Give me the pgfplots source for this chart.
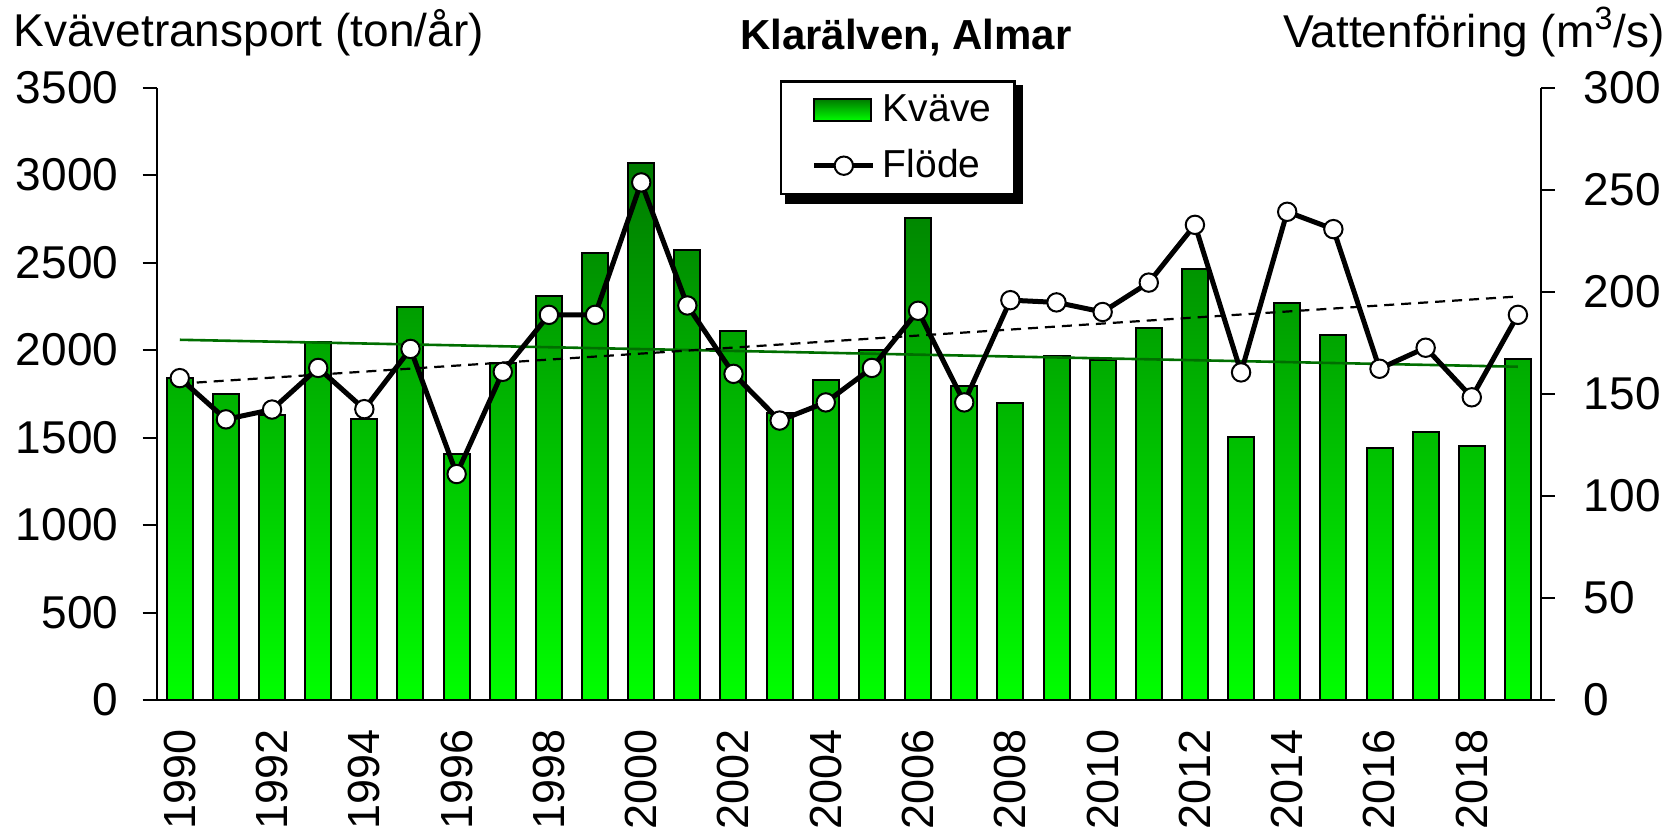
\documentclass[border=0pt]{standalone}
\usepackage{fontspec}
\setmainfont{Liberation Sans}
\usepackage{pgfplots}
\usepackage{pgfplotstable}
\pgfplotsset{compat=1.18}
\definecolor{bartop}{RGB}{0,122,0}
\definecolor{barbot}{RGB}{0,255,0}
\definecolor{trendgreen}{RGB}{0,110,0}

\pgfplotsset{
  barlegend/.style={legend image code/.code={\path (-3.7pt,0pt); \draw[##1] (0pt,-5.4pt) rectangle (28.35pt,5.45pt);}},
  linelegend/.style={legend image code/.code={\path (-3.7pt,0pt); \draw[mark repeat=2, mark phase=2, ##1] plot coordinates {(0pt,0pt) (14.75pt,0pt) (29.5pt,0pt)};}},
}

\pgfplotstableread{
year kvave flode
1990 1838 157.7
1991 1749 137.5
1992 1628 142.3
1993 2045 162.7
1994 1604 142.5
1995 2247 172.0
1996 1405 110.7
1997 1929 160.8
1998 2312 188.7
1999 2555 188.7
2000 3072 253.6
2001 2573 193.3
2002 2109 159.8
2003 1640 136.9
2004 1828 145.8
2005 2001 162.7
2006 2754 190.7
2007 1797 145.8
2008 1696 195.9
2009 1965 194.8
2010 1941 190.1
2011 2126 204.5
2012 2463 232.8
2013 1505 160.5
2014 2271 239.2
2015 2086 230.7
2016 1443 162.3
2017 1532 172.6
2018 1453 148.3
2019 1948 188.7
}\datatable

\begin{document}
\fontsize{23pt}{27pt}\selectfont
\begin{tikzpicture}
\useasboundingbox (0,0) rectangle (838.5pt,417pt);
\pgfplotsset{
  common/.style={
    at={(78.35pt,67pt)}, anchor=south west, scale only axis,
    width=692.15pt, height=306.15pt,
    xmin=1989.5, xmax=2019.5,
    /pgf/number format/assume math mode=true,
    /pgf/number format/1000 sep={},
    tick align=outside, major tick length=7pt,
    axis line style={line width=1pt,-},
    every tick/.style={black, line width=1pt},
    clip=false,
  }
}
\begin{axis}[common,
  axis y line*=left, axis x line*=bottom,
  ymin=0, ymax=3500, ytick={0,500,...,3500},
  xtick={1990,1992,...,2018},
  xtick style={draw=none},
  xticklabel style={rotate=90, anchor=east, inner sep=0pt, font=\fontsize{22.5pt}{26pt}\selectfont},
  xticklabel shift=7.5pt,
  yticklabel style={inner sep=0pt},
  yticklabel shift=12pt,
]
\addplot[ybar, bar width=13pt, draw=black, line width=1pt, top color=bartop, bottom color=barbot] table[x=year, y=kvave] {\datatable};
\addplot[trendgreen, line width=1.3pt, no marks] coordinates {(1990,2059) (2019,1905)};
\end{axis}
\begin{axis}[common,
  axis y line*=right, axis x line=none,
  ymin=0, ymax=300, ytick={0,50,...,300},
  yticklabel style={inner sep=0pt},
  yticklabel shift=14.3pt,
  legend cell align=left,
  legend style={name=leg, at={(axis description cs:0.4503,1.012)}, anchor=north west,
    draw=black, line width=1.2pt, fill=white,
    font=\fontsize{19.5pt}{22pt}\selectfont,
    inner xsep=11.6pt, inner ysep=5.2pt, row sep=9.8pt,
    nodes={inner sep=0pt, text height=14.95pt, text depth=3.1pt},
    /tikz/every odd column/.append style={column sep=3.5pt}},
]
\addplot[black, dash pattern=on 5pt off 3.5pt, line width=1.1pt, no marks, forget plot] coordinates {(1990,155) (2019,197.7)};
\addlegendimage{draw=black, line width=1pt, top color=bartop, bottom color=barbot, barlegend}
\addlegendentry{Kväve}
\addplot[black, line width=2.5pt, mark=*, mark size=4.6pt, mark options={fill=white, draw=black, line width=1pt}, linelegend]
  table[x=year, y=flode] {\datatable};
\addlegendentry{Flöde}
\end{axis}
\fill[black] ([yshift=-2.5pt]leg.north east) rectangle ([xshift=3.85pt,yshift=-4.2pt]leg.south east);
\fill[black] ([xshift=2.5pt]leg.south west) rectangle ([xshift=3.85pt,yshift=-4.2pt]leg.south east);
\node[anchor=base west, inner sep=0pt] at (6.5pt,393.5pt) {Kvävetransport (ton/år)};
\node[anchor=base, inner sep=0pt, font=\fontsize{21pt}{25pt}\selectfont\bfseries] at (453pt,392pt) {Klarälven, Almar};
\node[anchor=base east, inner sep=0pt] at (832.5pt,393pt) {Vattenföring (m\textsuperscript{3}/s)};
\end{tikzpicture}
\end{document}
